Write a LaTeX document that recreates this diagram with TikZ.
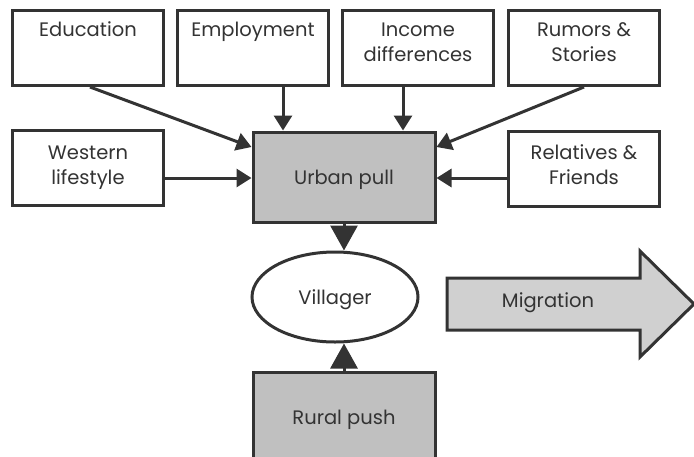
\documentclass[tikz,border=0pt]{standalone}
\usepackage{fontspec}
\setmainfont{Poppins}
\usetikzlibrary{arrows.meta,shapes.geometric}

\definecolor{ink}{HTML}{333333}
\definecolor{pullgray}{HTML}{C0C0C0}
\definecolor{migrgray}{HTML}{D0D0D0}

\tikzset{
  label font/.style={text=ink,font=\fontsize{19.5}{25}\selectfont},
  oneline/.style={text height=20pt,text depth=5pt},
  factor/.style={draw=ink,line width=3pt,fill=white,minimum width=151pt,minimum height=75pt,inner sep=0pt,align=center,label font},
  topfactor/.style={factor,text depth=12pt},
  force/.style={factor,oneline,fill=pullgray,minimum width=182pt,minimum height=90pt},
  link/.style={draw=ink,line width=3pt,-{Triangle[length=15pt,width=18pt]}},
  biglink/.style={draw=ink,line width=3pt,-{Triangle[length=25pt,width=27pt]}}
}

\begin{document}
\begin{tikzpicture}[x=1pt,y=-1pt]
          \useasboundingbox (0,0) rectangle (694,456);
          % top row
          \node[topfactor] (edu) at (88,48) {Education\\ \mbox{}};
          \node[topfactor] (emp) at (253,48) {Employment\\ \mbox{}};
          \node[topfactor] (inc) at (418,48) {Income\\differences};
          \node[topfactor] (rum) at (584,48) {Rumors \&\\Stories};
          % second row
          \node[factor] (west) at (88,168) {Western\\lifestyle};
          \node[force] (urban) at (344,177) {Urban pull};
          \node[factor,text depth=8pt] (rel) at (584,169) {Relatives \&\\Friends};
          % villager
          \node[draw=ink,line width=3pt,ellipse,minimum width=166pt,minimum height=90pt,inner sep=0pt,label font,oneline] (vill) at (335,297) {Villager};
          \node[force] (rural) at (344,417) {Rural push};
          % migration arrow
          \draw[draw=ink,line width=3pt,fill=migrgray] (447,278) -- (640,278) -- (640,251) -- (694,304) -- (640,357) -- (640,330) -- (447,330) -- cycle;
          \node[label font,oneline] (migr) at (548,300) {Migration};
          % pulls
          \draw[link] (edu.south) ++(2,0) coordinate (edufoot) -- (urban.north west |- 0,147);
          \draw[link] (emp.south -| 283,0) -- (urban.north -| 283,0);
          \draw[link] (inc.south -| 403,0) -- (urban.north -| 403,0);
          \draw[link] (rum.south) coordinate (rumfoot) -- (urban.north east |- 0,147);
          \draw[link] (west.east |- 0,178) -- (urban.west |- 0,178);
          \draw[link] (rel.west |- 0,178) -- (urban.east |- 0,178);
          \draw[biglink] (urban.south) -- (urban.south |- vill.north);
          \draw[biglink] (rural.north) -- (rural.north |- vill.south);
        \end{tikzpicture}
\end{document}
